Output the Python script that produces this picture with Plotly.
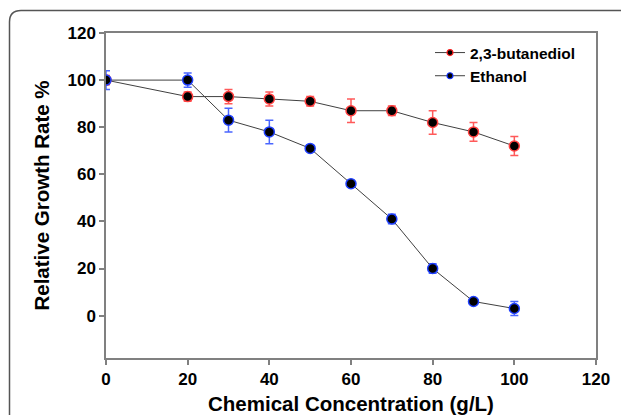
import plotly.graph_objects as go

conc = [0, 20, 30, 40, 50, 60, 70, 80, 90, 100]
butanediol = [100, 93, 93, 92, 91, 87, 87, 82, 78, 72]
butanediol_err = [2, 2, 3, 3, 2, 5, 2, 5, 4, 4]
ethanol = [100, 100, 83, 78, 71, 56, 41, 20, 6, 3]
ethanol_err = [4, 3, 5, 5, 1, 1.5, 2, 2, 1, 3]
series_names = ["2,3-butanediol", "Ethanol"]

OFF = 8  # browser default body margin
W, H = 629 - OFF, 415 - OFF
L, R, T, B = 106 - OFF, 33, 33 - OFF, 57
pw, ph = W - L - R, H - T - B

def px(x):  # page pixel -> paper
    return (x - OFF - L) / pw

def py(y):
    return (OFF + H - B - y) / ph

fig = go.Figure()
fig.add_trace(go.Scatter(
    x=conc, y=butanediol, name=series_names[0], mode="lines+markers", showlegend=False,
    line=dict(color="#404040", width=1),
    marker=dict(size=10, color="black", line=dict(color="#ff4040", width=1.5)),
    error_y=dict(type="data", array=butanediol_err, color="#ff5a5a", thickness=1.5, width=4),
))
fig.add_trace(go.Scatter(
    x=conc, y=ethanol, name=series_names[1], mode="lines+markers", showlegend=False,
    line=dict(color="#404040", width=1),
    marker=dict(size=10, color="black", line=dict(color="#2040ff", width=1.5)),
    error_y=dict(type="data", array=ethanol_err, color="#4a66ff", thickness=1.5, width=4),
))
# legend entries with smaller symbols
for name, edge in zip(series_names, ["#ff2020", "#1030ff"]):
    fig.add_trace(go.Scatter(
        x=[None], y=[None], name=name, mode="lines+markers",
        line=dict(color="#404040", width=1),
        marker=dict(size=6, color="black", line=dict(color=edge, width=1.2)),
    ))

# rounded outer frame
path = (f"M {px(9.5)} {py(H + OFF + 5)} L {px(9.5)} {py(22)} "
        f"Q {px(9.5)} {py(10.5)} {px(21)} {py(10.5)} "
        f"L {px(623)} {py(10.5)} Q {px(628)} {py(10.5)} {px(629)} {py(13)}")
fig.add_shape(type="path", path=path, xref="paper", yref="paper",
              line=dict(color="#555555", width=1.5))

axis_common = dict(
    showgrid=False, zeroline=False, showline=True, linecolor="#808080", linewidth=1.5,
    mirror=True, ticks="outside", tickcolor="#808080", ticklen=5, tickwidth=1.5,
    tickfont=dict(family="Liberation Sans", size=17, color="black", weight="bold"),
    automargin=False,
)
fig.update_xaxes(range=[0, 120], tickvals=[0, 20, 40, 60, 80, 100, 120],
                 title=dict(text="<b>Chemical Concentration (g/L)</b>",
                            font=dict(family="Liberation Sans", size=20.5, color="black"),
                            standoff=12),
                 **axis_common)
fig.update_yaxes(range=[-18, 120], tickvals=[0, 20, 40, 60, 80, 100, 120],
                 title=dict(text="<b>Relative Growth Rate %</b>",
                            font=dict(family="Liberation Sans", size=20.5, color="black"),
                            standoff=12),
                 **axis_common)

fig.update_layout(
    width=W, height=H, margin=dict(l=L, r=R, t=T, b=B, autoexpand=False),
    plot_bgcolor="white", paper_bgcolor="white",
    legend=dict(x=px(430), y=py(36), xanchor="left", yanchor="top",
                font=dict(family="Liberation Sans", size=15.5, color="black", weight="bold"),
                bgcolor="rgba(0,0,0,0)", tracegroupgap=0, itemwidth=30),
    showlegend=True,
)
fig.write_html("out.html")
